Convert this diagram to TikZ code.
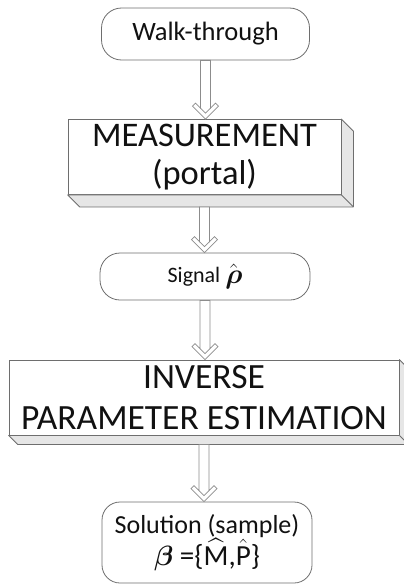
\documentclass[tikz,border=0pt]{standalone}
\usepackage{amsmath}
\usepackage{fontspec}
\setmainfont{Carlito}
\usetikzlibrary{calc}
\definecolor{edge}{HTML}{6E6E6E}
\definecolor{arrowedge}{HTML}{8C8C8C}
\definecolor{bevelfill}{HTML}{E6E6E6}
\definecolor{ink}{HTML}{111111}
\tikzset{
 term/.style={draw=edge, fill=white, line width=0.8pt, rounded corners=20pt, inner sep=0pt, align=center, text=ink},
 front/.style={draw=edge, fill=white, line width=0.8pt, inner sep=0pt, align=center, text=ink},
 bevelface/.style={draw=edge, fill=bevelfill, line width=0.8pt, line join=round},
 blockarrow/.style={draw=arrowedge, fill=white, line width=0.8pt, line join=miter},
 innerv/.style={draw=arrowedge, line width=0.8pt},
}
\newcommand\bevelbox[2]{%
 \draw[bevelface] (#1.north east) -- ([shift={(#2,-#2)}]#1.north east) -- ([shift={(#2,-#2)}]#1.south east) -- ([shift={(#2,-#2)}]#1.south west) -- (#1.south west) -- (#1.south east) -- cycle;
 \draw[bevelface] (#1.south east) -- ([shift={(#2,-#2)}]#1.south east);
}
\newcommand\flowarrow[2]{%
 \draw[blockarrow] let \p1=(#1), \p2=(#2) in (\x1-5pt,\y1) -- (\x1-5pt,\y2+11pt) -- (\x1-10pt,\y2+16pt) -- (\x1-13pt,\y2+13pt) -- (\x1,\y2) -- (\x1+13pt,\y2+13pt) -- (\x1+10pt,\y2+16pt) -- (\x1+5pt,\y2+11pt) -- (\x1+5pt,\y1) -- cycle;
 \draw[innerv] let \p1=(#1), \p2=(#2) in (\x1-5pt,\y2+11pt) -- (\x1,\y2+6pt) -- (\x1+5pt,\y2+11pt);
}
\begin{document}
\begin{tikzpicture}[x=1pt,y=-1pt]
\useasboundingbox (0,0) rectangle (404,586);
\node[term, minimum width=208pt, minimum height=52pt, font=\fontsize{26.5}{30}\selectfont] (walk) at (205.5,34) {Walk-through};
\node[front, minimum width=273pt, minimum height=75pt, font=\fontsize{34.5}{38}\selectfont] (meas) at (204.5,157) {MEASUREMENT\\(portal)};
\bevelbox{meas}{12pt}
\node[term, minimum width=210pt, minimum height=47pt, font=\fontsize{22}{26}\selectfont] (signal) at (205,276.5) {Signal \raisebox{-1pt}{\scalebox{1.35}{$\hat{\boldsymbol{\rho}}$}}};
\node[front, minimum width=390pt, minimum height=75pt, font=\fontsize{35.5}{41}\selectfont] (inv) at (204,397.5) {INVERSE\\PARAMETER ESTIMATION};
\bevelbox{inv}{9pt}
\node[term, rounded corners=18pt, minimum width=210pt, minimum height=81pt, font=\fontsize{26}{26}\selectfont] (sol) at (207,542.5) {Solution (sample)\\\scalebox{1.12}{$\boldsymbol{\beta}$ =\{$\widehat{\mathrm{M}}$,$\hat{\mathrm{P}}$\}}};
\flowarrow{walk.south}{meas.north}
\flowarrow{[yshift=-12pt]meas.south}{signal.north}
\flowarrow{signal.south}{inv.north}
\flowarrow{[yshift=-9pt]inv.south}{sol.north}
\end{tikzpicture}
\end{document}
